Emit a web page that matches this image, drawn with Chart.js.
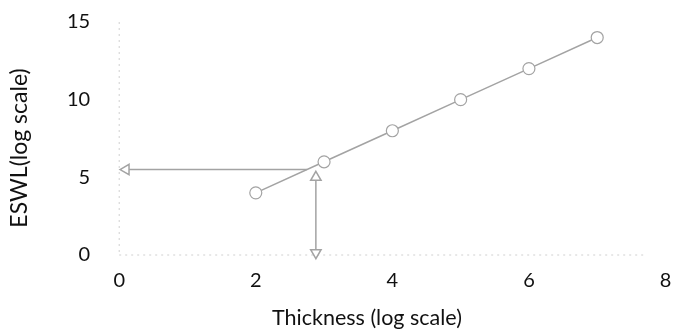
<!DOCTYPE html>
<html>
<head>
<meta charset="utf-8">
<script src="https://cdn.jsdelivr.net/npm/chart.js@4.4.0/dist/chart.umd.min.js"></script>
<style>
  html, body { margin: 0; padding: 0; background: #fff; }
  #wrap { width: 673px; height: 335px; }
</style>
</head>
<body>
<div id="wrap"><canvas id="eswlChart"></canvas></div>
<script>
// series values
const thickness = [2, 3, 4, 5, 6, 7];
const eswl = [4, 6, 8, 10, 12, 14];

// guide arrows (read-off of the design point)
const hArrowX = [0.1, 2.75];
const hArrowY = [5.5, 5.5];
const vArrowX = [2.88, 2.88];
const vArrowY = [5.0, 0.15];

const xTicks = [0, 2, 4, 6, 8];
const yTicks = [0, 5, 10, 15];

const xTitle = 'Thickness (log scale)';
const yTitle = 'ESWL(log scale)';

const grey = '#a3a3a3';
const font = "Lato, 'Noto Sans', sans-serif";

function pts(xs, ys) {
    return xs.map((x, i) => ({ x: x, y: ys[i] }));
}

const ctx = document.getElementById('eswlChart').getContext('2d');
new Chart(ctx, {
    type: 'scatter',
    data: {
        datasets: [{
            label: 'ESWL',
            data: pts(thickness, eswl),
            showLine: true,
            borderColor: grey,
            borderWidth: 1.5,
            pointRadius: 6,
            pointBorderWidth: 1.2,
            pointBackgroundColor: '#fff',
            pointBorderColor: grey
        }, {
            label: 'horizontal',
            data: pts(hArrowX, hArrowY),
            showLine: true,
            borderColor: grey,
            borderWidth: 1.5,
            pointStyle: ['triangle', false],
            pointRotation: [-90, 0],
            pointRadius: [6, 0],
            pointBackgroundColor: '#fff',
            pointBorderColor: grey
        }, {
            label: 'vertical',
            data: pts(vArrowX, vArrowY),
            showLine: true,
            borderColor: grey,
            borderWidth: 1.5,
            pointStyle: 'triangle',
            pointRotation: [0, 180],
            pointRadius: 6,
            pointBackgroundColor: '#fff',
            pointBorderColor: grey
        }]
    },
    options: {
        responsive: true,
        maintainAspectRatio: false,
        animation: false,
        clip: false,
        layout: { padding: { top: 22, right: 6, left: 46, bottom: 36 } },
        plugins: { legend: { display: false }, tooltip: { enabled: false } },
        scales: {
            x: {
                type: 'linear',
                min: 0, max: 8,
                afterBuildTicks: axis => { axis.ticks = xTicks.map(v => ({ value: v })); },
                afterFit: axis => { axis.paddingRight = 0; axis.paddingLeft = 0; },
                grid: { display: false },
                border: { display: false },
                ticks: { color: '#111', font: { family: font, size: 20 }, padding: 6 }
            },
            y: {
                type: 'linear',
                min: 0, max: 15,
                afterBuildTicks: axis => { axis.ticks = yTicks.map(v => ({ value: v })); },
                afterFit: axis => { axis.paddingTop = 0; axis.paddingBottom = 0; },
                grid: { display: false },
                border: { display: false },
                ticks: { color: '#111', font: { family: font, size: 20 }, padding: 21 }
            }
        }
    },
    plugins: [{
        id: 'faintAxes',
        beforeDatasetsDraw(chart) {
            const { ctx, chartArea, scales } = chart;
            const y0 = scales.y.getPixelForValue(0);
            const x0 = scales.x.getPixelForValue(0);
            ctx.save();
            ctx.strokeStyle = '#d0d0d0';
            ctx.lineWidth = 1;
            ctx.setLineDash([2, 4]);
            ctx.beginPath();
            ctx.moveTo(chartArea.left, y0);
            ctx.lineTo(chartArea.right - 20, y0);
            ctx.moveTo(x0, chartArea.top);
            ctx.lineTo(x0, chartArea.bottom);
            ctx.stroke();
            ctx.restore();
        }
    }, {
        // axis titles sit off-centre in the original, so place them by hand
        id: 'axisTitles',
        afterDraw(chart) {
            const c = chart.ctx;
            c.save();
            c.fillStyle = '#111';
            c.textAlign = 'center';
            c.textBaseline = 'middle';
            c.font = "21.5px " + font;
            c.fillText(xTitle, 367, 318);
            c.translate(20, 148);
            c.rotate(-Math.PI / 2);
            c.font = "23px " + font;
            c.fillText(yTitle, 0, 0);
            c.restore();
        }
    }]
});
</script>
</body>
</html>
